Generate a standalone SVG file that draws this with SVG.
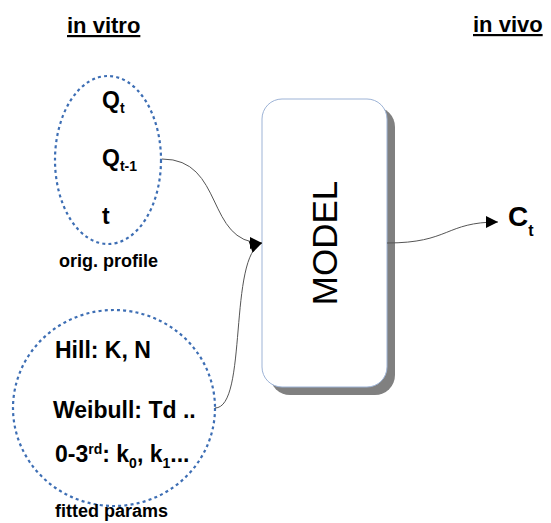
<svg xmlns="http://www.w3.org/2000/svg" width="551" height="523" viewBox="0 0 551 523">
<defs>
<style>
text{font-family:"Liberation Sans",Arial,sans-serif;font-weight:bold;fill:#000}
.dot{fill:none;stroke:#3d6eb4;stroke-width:2.2;stroke-dasharray:3 3.2}
.conn{fill:none;stroke:#555;stroke-width:1}
.hd{font-size:22px;text-decoration:underline}
.lbl{font-size:18px}
.v{font-size:23px}
.p{font-size:23px}
</style>
<marker id="ah" viewBox="0 0 10 10" refX="10" refY="5" markerWidth="17" markerHeight="12" markerUnits="userSpaceOnUse" orient="auto">
<path d="M0,0 L10,5 L0,10 Z" fill="#000"/>
</marker>
</defs>
<g id="in-vitro-title"><text class="hd" x="67" y="33">in vitro</text></g>
<g id="in-vivo-title"><text class="hd" x="473" y="32">in vivo</text></g>
<g id="orig-profile">
<ellipse class="dot" cx="108" cy="160" rx="53" ry="84"/>
<text class="v" x="102" y="108">Q<tspan font-size="14" dy="5">t</tspan></text>
<text class="v" x="102" y="166">Q<tspan font-size="14" dy="5">t-1</tspan></text>
<text class="v" x="102" y="224">t</text>
<text class="lbl" x="59" y="267">orig. profile</text>
</g>
<g id="fitted-params">
<ellipse class="dot" cx="114" cy="408" rx="101" ry="98"/>
<text class="p" x="55" y="358">Hill: K, N</text>
<text class="p" x="53" y="418">Weibull: Td ..</text>
<text class="p" x="55" y="462">0-3<tspan font-size="14" dy="-8">rd</tspan><tspan dy="8">: k</tspan><tspan font-size="14" dy="6">0</tspan><tspan dy="-6">, k</tspan><tspan font-size="14" dy="6">1</tspan><tspan dy="-6">...</tspan></text>
<text class="lbl" x="55" y="517">fitted params</text>
</g>
<g id="model">
<rect x="270" y="107" width="125" height="288" rx="20" fill="#808080"/>
<rect x="262" y="99" width="125" height="288" rx="20" fill="#fff" stroke="#9db3d6" stroke-width="1"/>
<text x="0" y="0" transform="translate(337,243) rotate(-90)" text-anchor="middle" style="font-weight:normal;font-size:35px">MODEL</text>
</g>
<g id="output-ct"><text x="508" y="226" style="font-size:28px">C<tspan font-size="16" dy="10">t</tspan></text></g>
<g id="connectors">
<path class="conn" d="M162,159 C225,159 205,243 262,243" marker-end="url(#ah)"/>
<path class="conn" d="M215,408 C248,408 228,255 262,243" marker-end="url(#ah)"/>
<path class="conn" d="M387,243 C450,243 445,222 498,222" marker-end="url(#ah)"/>
</g>
</svg>
